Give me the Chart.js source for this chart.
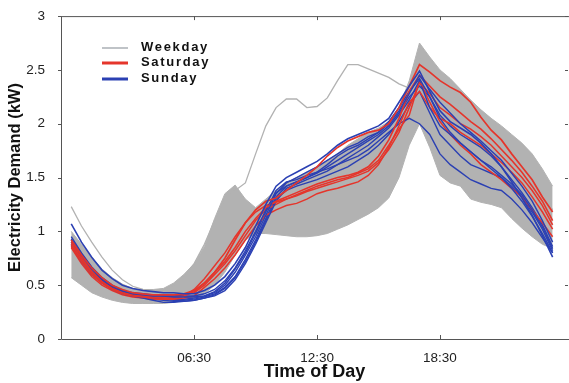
<!DOCTYPE html>
<html>
<head>
<meta charset="utf-8">
<script src="https://cdn.jsdelivr.net/npm/chart.js@4.4.0/dist/chart.umd.min.js"></script>
<style>
	body { margin: 0; background: #fff; }
	canvas { display: block; }
</style>
</head>
<body>
<canvas id="demandChart" width="569" height="383"></canvas>
<script>
// half-hour slots (hours)
const hours = [0.5, 1, 1.5, 2, 2.5, 3, 3.5, 4, 4.5, 5, 5.5, 6, 6.5, 7, 7.5, 8, 8.5, 9, 9.5, 10, 10.5, 11, 11.5, 12,
	12.5, 13, 13.5, 14, 14.5, 15, 15.5, 16, 16.5, 17, 17.5, 18, 18.5, 19, 19.5, 20, 20.5, 21, 21.5, 22, 22.5, 23, 23.5, 24];

const tickValues = [6.5, 12.5, 18.5];
const tickLabels = ['06:30', '12:30', '18:30'];
const seriesNames = ['Weekday', 'Saturday', 'Sunday'];

// weekday band (lower / upper envelope) + the odd weekday profile
const weekdayLow = [0.57, 0.50, 0.43, 0.39, 0.36, 0.34, 0.33, 0.33, 0.33, 0.33, 0.34, 0.36, 0.38, 0.42, 0.50, 0.62, 0.78, 0.92, 0.98, 0.98, 0.97, 0.96, 0.95, 0.95,
	0.96, 0.98, 1.02, 1.06, 1.11, 1.16, 1.22, 1.31, 1.50, 1.80, 2.00, 1.78, 1.52, 1.45, 1.42, 1.30, 1.27, 1.25, 1.22, 1.12, 1.03, 0.95, 0.88, 0.84];
const weekdayHigh = [1.00, 0.88, 0.76, 0.65, 0.57, 0.51, 0.47, 0.46, 0.46, 0.47, 0.52, 0.60, 0.70, 0.86, 1.12, 1.35, 1.43, 1.30, 1.22, 1.30, 1.38, 1.45, 1.50, 1.55,
	1.60, 1.66, 1.72, 1.80, 1.86, 1.92, 1.96, 2.02, 2.15, 2.40, 2.75, 2.62, 2.50, 2.42, 2.32, 2.22, 2.13, 2.05, 1.98, 1.90, 1.82, 1.72, 1.58, 1.42];
const weekdayOdd = [1.23, 1.05, 0.90, 0.76, 0.64, 0.55, 0.49, 0.46, 0.45, 0.46, 0.50, 0.58, 0.70, 0.88, 1.10, 1.30, 1.38, 1.45, 1.72, 1.98, 2.15, 2.23, 2.23, 2.15,
	2.16, 2.24, 2.40, 2.55, 2.55, 2.51, 2.47, 2.43, 2.37, 2.33, 2.60, 2.50, 2.38, 2.28, 2.18, 2.08, 1.98, 1.88, 1.78, 1.68, 1.58, 1.48, 1.35, 1.20];

// saturday profiles
const sat1 = [0.92, 0.78, 0.66, 0.57, 0.50, 0.46, 0.43, 0.42, 0.41, 0.41, 0.41, 0.42, 0.45, 0.52, 0.62, 0.75, 0.92, 1.08, 1.20, 1.28, 1.31, 1.38, 1.45, 1.52,
	1.60, 1.70, 1.78, 1.84, 1.88, 1.92, 1.94, 2.00, 2.15, 2.35, 2.55, 2.48, 2.40, 2.34, 2.29, 2.20, 2.06, 1.94, 1.85, 1.72, 1.60, 1.48, 1.32, 1.18];
const sat2 = [0.88, 0.74, 0.62, 0.53, 0.47, 0.43, 0.41, 0.40, 0.39, 0.38, 0.38, 0.40, 0.44, 0.52, 0.62, 0.72, 0.85, 1.00, 1.12, 1.22, 1.28, 1.32, 1.36, 1.40,
	1.44, 1.47, 1.50, 1.52, 1.55, 1.60, 1.70, 1.85, 2.05, 2.30, 2.45, 2.35, 2.25, 2.18, 2.10, 2.02, 1.95, 1.86, 1.76, 1.66, 1.55, 1.42, 1.28, 1.10];
const sat3 = [0.85, 0.70, 0.58, 0.50, 0.45, 0.41, 0.39, 0.38, 0.37, 0.37, 0.37, 0.38, 0.40, 0.48, 0.56, 0.66, 0.78, 0.92, 1.05, 1.15, 1.20, 1.24, 1.26, 1.30,
	1.35, 1.38, 1.40, 1.43, 1.46, 1.52, 1.62, 1.78, 1.98, 2.20, 2.30, 2.15, 2.05, 2.00, 1.92, 1.86, 1.80, 1.72, 1.64, 1.55, 1.45, 1.32, 1.18, 1.02];
const sat4 = [0.90, 0.76, 0.63, 0.54, 0.48, 0.44, 0.42, 0.41, 0.40, 0.40, 0.40, 0.41, 0.43, 0.50, 0.60, 0.70, 0.82, 0.96, 1.10, 1.20, 1.25, 1.30, 1.34, 1.38,
	1.42, 1.45, 1.48, 1.50, 1.54, 1.58, 1.66, 1.80, 1.95, 2.08, 2.40, 2.20, 2.02, 1.90, 1.80, 1.72, 1.62, 1.55, 1.48, 1.40, 1.32, 1.20, 1.08, 0.95];
const sat5 = [0.86, 0.72, 0.60, 0.52, 0.46, 0.42, 0.40, 0.39, 0.38, 0.38, 0.38, 0.40, 0.46, 0.56, 0.68, 0.80, 0.95, 1.08, 1.18, 1.24, 1.27, 1.30, 1.33, 1.37,
	1.40, 1.43, 1.46, 1.49, 1.52, 1.56, 1.64, 1.76, 1.92, 2.15, 2.38, 2.28, 2.15, 2.08, 2.00, 1.95, 1.88, 1.80, 1.70, 1.60, 1.50, 1.38, 1.24, 1.06];

// sunday profiles
const sun1 = [1.07, 0.90, 0.76, 0.64, 0.56, 0.50, 0.47, 0.45, 0.44, 0.43, 0.43, 0.42, 0.42, 0.45, 0.50, 0.58, 0.70, 0.85, 1.05, 1.25, 1.42, 1.50, 1.55, 1.60,
	1.65, 1.72, 1.80, 1.86, 1.90, 1.94, 1.98, 2.05, 2.20, 2.35, 2.49, 2.30, 2.12, 2.02, 1.96, 1.90, 1.82, 1.72, 1.60, 1.46, 1.31, 1.15, 0.96, 0.76];
const sun2 = [0.95, 0.80, 0.67, 0.57, 0.50, 0.45, 0.42, 0.41, 0.40, 0.40, 0.39, 0.39, 0.39, 0.40, 0.43, 0.50, 0.62, 0.78, 0.95, 1.15, 1.35, 1.45, 1.50, 1.55,
	1.60, 1.66, 1.72, 1.78, 1.82, 1.88, 1.92, 2.00, 2.12, 2.28, 2.45, 2.32, 2.20, 2.10, 2.00, 1.92, 1.84, 1.75, 1.66, 1.54, 1.42, 1.28, 1.10, 0.90];
const sun3 = [0.87, 0.72, 0.60, 0.52, 0.46, 0.42, 0.40, 0.38, 0.36, 0.34, 0.34, 0.35, 0.36, 0.38, 0.40, 0.45, 0.55, 0.70, 0.88, 1.08, 1.28, 1.40, 1.44, 1.48,
	1.52, 1.56, 1.62, 1.68, 1.74, 1.80, 1.88, 1.96, 2.08, 2.22, 2.40, 2.15, 1.98, 1.90, 1.82, 1.74, 1.66, 1.58, 1.50, 1.40, 1.28, 1.14, 0.98, 0.80];
const sun4 = [0.92, 0.78, 0.65, 0.55, 0.48, 0.44, 0.42, 0.40, 0.39, 0.38, 0.37, 0.37, 0.38, 0.40, 0.44, 0.52, 0.65, 0.80, 0.98, 1.18, 1.38, 1.46, 1.48, 1.52,
	1.55, 1.58, 1.62, 1.66, 1.70, 1.76, 1.84, 1.92, 2.00, 2.05, 2.00, 1.90, 1.72, 1.62, 1.55, 1.48, 1.44, 1.40, 1.38, 1.30, 1.20, 1.08, 0.94, 0.80];
const sun5 = [0.90, 0.75, 0.63, 0.54, 0.47, 0.43, 0.41, 0.40, 0.38, 0.37, 0.36, 0.36, 0.37, 0.39, 0.42, 0.48, 0.58, 0.74, 0.92, 1.12, 1.32, 1.42, 1.46, 1.50,
	1.54, 1.60, 1.66, 1.72, 1.78, 1.84, 1.90, 1.98, 2.10, 2.25, 2.35, 2.25, 2.08, 1.98, 1.90, 1.84, 1.78, 1.70, 1.60, 1.48, 1.36, 1.22, 1.06, 0.86];
const sun6 = [0.93, 0.79, 0.66, 0.56, 0.49, 0.45, 0.43, 0.42, 0.41, 0.40, 0.40, 0.40, 0.40, 0.42, 0.46, 0.54, 0.66, 0.82, 1.00, 1.20, 1.36, 1.42, 1.46, 1.50,
	1.55, 1.62, 1.70, 1.76, 1.80, 1.86, 1.92, 2.02, 2.15, 2.30, 2.42, 2.25, 2.05, 1.92, 1.82, 1.74, 1.66, 1.60, 1.52, 1.44, 1.34, 1.20, 1.04, 0.84];
const sun7 = [0.88, 0.74, 0.62, 0.53, 0.47, 0.43, 0.41, 0.39, 0.37, 0.36, 0.35, 0.35, 0.36, 0.38, 0.41, 0.47, 0.57, 0.72, 0.90, 1.10, 1.30, 1.38, 1.42, 1.45,
	1.48, 1.52, 1.56, 1.60, 1.66, 1.72, 1.80, 1.90, 2.02, 2.18, 2.30, 2.10, 1.90, 1.80, 1.70, 1.62, 1.58, 1.54, 1.50, 1.42, 1.32, 1.18, 1.02, 0.82];

const GREY = '#b2b2b2';
const RED = '#e5352b';
const BLUE = '#2b40b3';
const FONT = '"Liberation Sans", Arial, sans-serif';

function pts(vals) {
	return vals.map((v, i) => ({ x: hours[i], y: v }));
}

function line(vals, color, width, order) {
	return {
		data: pts(vals),
		borderColor: color,
		borderWidth: width,
		pointRadius: 0,
		tension: 0,
		fill: false,
		order: order
	};
}

const datasets = [
	// red / blue on top
	line(sun1, BLUE, 1.6, 1),
	line(sat1, RED, 1.7, 1),
	line(sun2, BLUE, 1.4, 1),
	line(sat2, RED, 1.6, 1),
	line(sun6, BLUE, 1.4, 1),
	line(sat5, RED, 1.5, 1),
	line(sun3, BLUE, 1.4, 1),
	line(sat3, RED, 1.5, 1),
	line(sun4, BLUE, 1.4, 1),
	line(sat4, RED, 1.5, 1),
	line(sun5, BLUE, 1.4, 1),
	line(sun7, BLUE, 1.4, 1),
	// weekday band underneath
	line(weekdayOdd, GREY, 1.3, 2),
	line(weekdayLow, GREY, 1, 3),
	Object.assign(line(weekdayHigh, GREY, 1, 3), { fill: '-1', backgroundColor: GREY })
];

// frame, inward ticks and the in-plot legend
const framePlugin = {
	id: 'frame',
	afterDraw(chart) {
		const { ctx, chartArea: a, scales } = chart;
		ctx.save();
		ctx.strokeStyle = '#555';
		ctx.lineWidth = 1;
		ctx.beginPath();
		ctx.moveTo(a.left + 0.5, a.top + 0.5);
		ctx.lineTo(chart.width, a.top + 0.5);
		ctx.moveTo(a.left + 0.5, a.top);
		ctx.lineTo(a.left + 0.5, a.bottom + 0.5);
		ctx.lineTo(chart.width, a.bottom + 0.5);
		tickValues.forEach(v => {
			const x = Math.round(scales.x.getPixelForValue(v)) + 0.5;
			ctx.moveTo(x, a.bottom);
			ctx.lineTo(x, a.bottom - 4);
			ctx.moveTo(x, a.top);
			ctx.lineTo(x, a.top + 4);
		});
		for (let v = 0; v <= 3; v += 0.5) {
			const y = Math.round(scales.y.getPixelForValue(v)) + 0.5;
			ctx.moveTo(a.left - 3, y);
			ctx.lineTo(a.left, y);
			ctx.moveTo(a.right - 3, y);
			ctx.lineTo(a.right, y);
		}
		ctx.stroke();

		// legend
		const colors = ['#bfc3c7', RED, BLUE];
		const widths = [2, 3, 3];
		const ys = [48, 63, 79];
		ctx.font = 'bold 13px ' + FONT;
		ctx.letterSpacing = '1.7px';
		ctx.textBaseline = 'middle';
		ctx.fillStyle = '#111';
		seriesNames.forEach((name, i) => {
			ctx.beginPath();
			ctx.strokeStyle = colors[i];
			ctx.lineWidth = widths[i];
			ctx.moveTo(102, ys[i]);
			ctx.lineTo(128, ys[i]);
			ctx.stroke();
			ctx.fillText(name, 141, ys[i] - 1);
		});
		ctx.restore();
	}
};

const ctx = document.getElementById('demandChart').getContext('2d');
new Chart(ctx, {
	type: 'line',
	data: { datasets: datasets },
	options: {
		responsive: false,
		animation: false,
		layout: { padding: { top: 15, right: 1, left: 0, bottom: 0 } },
		plugins: {
			legend: { display: false },
			tooltip: { enabled: false }
		},
		scales: {
			x: {
				type: 'linear',
				min: 0,
				max: 24.75,
				grid: { display: false },
				border: { display: false },
				afterBuildTicks: axis => {
					axis.ticks = tickValues.map(v => ({ value: v }));
				},
				afterFit: axis => { axis.height = 44; },
				ticks: {
					padding: 3,
					color: '#222',
					font: { family: FONT, size: 13.5 },
					callback: v => tickLabels[tickValues.indexOf(v)]
				},
				title: {
					display: true,
					text: 'Time of Day',
					color: '#111',
					font: { family: FONT, size: 18, weight: 'bold' },
					padding: { top: 0, bottom: 0 }
				}
			},
			y: {
				min: 0,
				max: 3,
				grid: { display: false },
				border: { display: false },
				afterFit: axis => { axis.width = 61; },
				ticks: {
					stepSize: 0.5,
					padding: 8,
					color: '#222',
					font: { family: FONT, size: 13.5 },
					callback: v => String(v)
				},
				title: {
					display: true,
					text: 'Electricity Demand (kW)',
					color: '#111',
					font: { family: FONT, size: 16.5, weight: 'bold' },
					padding: { top: 6, bottom: 0 }
				}
			}
		}
	},
	plugins: [framePlugin]
});
</script>
</body>
</html>
